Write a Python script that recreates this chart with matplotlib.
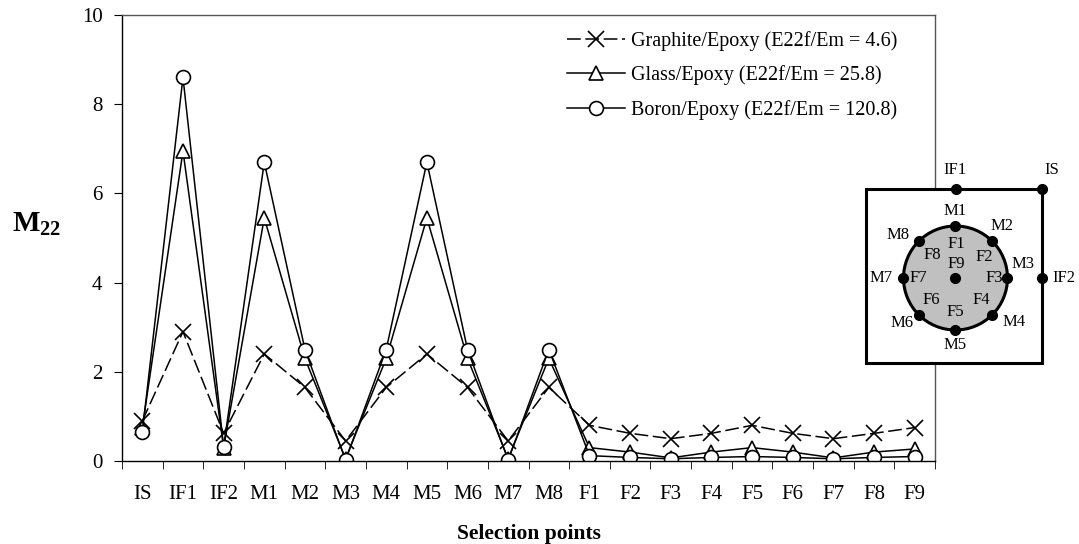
import numpy as np
import matplotlib
matplotlib.use("Agg")
import matplotlib.pyplot as plt
from matplotlib.patches import Rectangle, Ellipse

plt.rcParams['font.family'] = ['Liberation Serif', 'DejaVu Serif']
plt.rcParams['mathtext.fontset'] = 'custom'
plt.rcParams['mathtext.rm'] = 'Liberation Serif'
plt.rcParams['mathtext.bf'] = 'Liberation Serif:bold'

# data
titik = ['IS', 'IF1', 'IF2', 'M1', 'M2', 'M3', 'M4', 'M5', 'M6', 'M7', 'M8',
         'F1', 'F2', 'F3', 'F4', 'F5', 'F6', 'F7', 'F8', 'F9']
graphite = [0.9, 2.9, 0.62, 2.4, 1.65, 0.45, 1.65, 2.4, 1.65, 0.45, 1.65,
            0.8, 0.62, 0.5, 0.62, 0.8, 0.62, 0.5, 0.62, 0.75]
glass = [0.75, 6.95, 0.3, 5.45, 2.3, 0.05, 2.3, 5.45, 2.3, 0.05, 2.3,
         0.3, 0.2, 0.07, 0.2, 0.3, 0.2, 0.07, 0.2, 0.27]
boron = [0.65, 8.6, 0.32, 6.7, 2.5, 0.02, 2.5, 6.7, 2.5, 0.02, 2.5,
         0.12, 0.08, 0.05, 0.08, 0.1, 0.08, 0.05, 0.08, 0.1]
label_seri = ['Graphite/Epoxy (E22f/Em = 4.6)',
              'Glass/Epoxy (E22f/Em = 25.8)',
              'Boron/Epoxy (E22f/Em = 120.8)']
y_ticks = [0, 2, 4, 6, 8, 10]

W, H = 1079, 544
fig = plt.figure(figsize=(W / 100, H / 100), dpi=100)
ax = fig.add_axes([122 / W, 1 - 461 / H, 813 / W, 446 / H])

x = np.arange(len(titik))
ax.plot(x, graphite, color='black', lw=1.1, ls=(0, (9, 3)), marker='x',
        ms=11, mew=1.2, label=label_seri[0])
ax.plot(x, glass, color='black', lw=1.1, marker='^', ms=10, mew=1.2,
        mfc='white', label=label_seri[1])
ax.plot(x, boron, color='black', lw=1.1, marker='o', ms=10, mew=1.2,
        mfc='white', label=label_seri[2])

ax.set_xlim(-0.5, len(titik) - 0.5)
ax.set_ylim(0, 10)
ax.set_yticks(y_ticks)
ax.set_xticks(x)
ax.set_xticklabels(titik)
ax.set_xticks(np.arange(len(titik) + 1) - 0.5, minor=True)
ax.tick_params(axis='x', which='major', length=0, pad=17, labelsize=15)
ax.tick_params(axis='x', which='minor', length=6, direction='out')
ax.tick_params(axis='y', length=6, direction='out', labelsize=15, pad=8)
for s in ax.spines.values():
    s.set_linewidth(1.0)
ax.spines['top'].set_color('#555555')
ax.spines['right'].set_color('#555555')

ax.set_xlabel('Selection points', fontsize=15.5, fontweight='bold', labelpad=15)
ax.set_ylabel(r'$\mathbf{M}_{\mathbf{22}}$', fontsize=21, rotation=0)
ax.yaxis.set_label_coords(-0.105, 0.5)

ax.legend(loc='upper left', bbox_to_anchor=(0.525, 1.005), frameon=False,
          fontsize=14.5, handlelength=2.9, handletextpad=0.3, labelspacing=0.72)

# --- gambar skema (inset) ---
ax2 = fig.add_axes([840 / W, 1 - 380 / H, 239 / W, 230 / H])
ax2.set_xlim(840, 1079)
ax2.set_ylim(380, 150)
ax2.axis('off')
ax2.add_patch(Rectangle((866.5, 189), 176, 174, fc='white', ec='black', lw=2.2))
cx, cy, r = 955.5, 278, 52
ax2.add_patch(Ellipse((cx, cy), 2 * r, 2 * r, fc='#c0c0c0', ec='black', lw=2.2))

sudut = np.deg2rad(90 - 45 * np.arange(8))
mx = cx + r * np.cos(sudut)
my = cy - r * np.sin(sudut)
ax2.plot(mx, my, 'ko', ms=7)
ax2.plot([cx, 956, 1042.5, 1042.5], [cy, 189, 189, 278], 'ko', ms=7)

fs = 12
label_m = {'M1': (955, 211), 'M2': (1002, 226), 'M3': (1023, 264),
           'M4': (1014, 322), 'M5': (955, 345), 'M6': (902, 323),
           'M7': (881, 278), 'M8': (898, 235)}
label_f = {'F1': (956, 244), 'F2': (984, 257), 'F3': (994, 278),
           'F4': (981, 300), 'F5': (955, 312), 'F6': (931, 300),
           'F7': (918, 278), 'F8': (932, 255), 'F9': (956, 264)}
label_i = {'IF1': (955, 170), 'IS': (1052, 170), 'IF2': (1064, 278)}
for d in (label_m, label_f, label_i):
    for t, (px, py) in d.items():
        ax2.text(px, py, t, fontsize=fs, ha='center', va='center')

fig.savefig('out.png', dpi=100)
